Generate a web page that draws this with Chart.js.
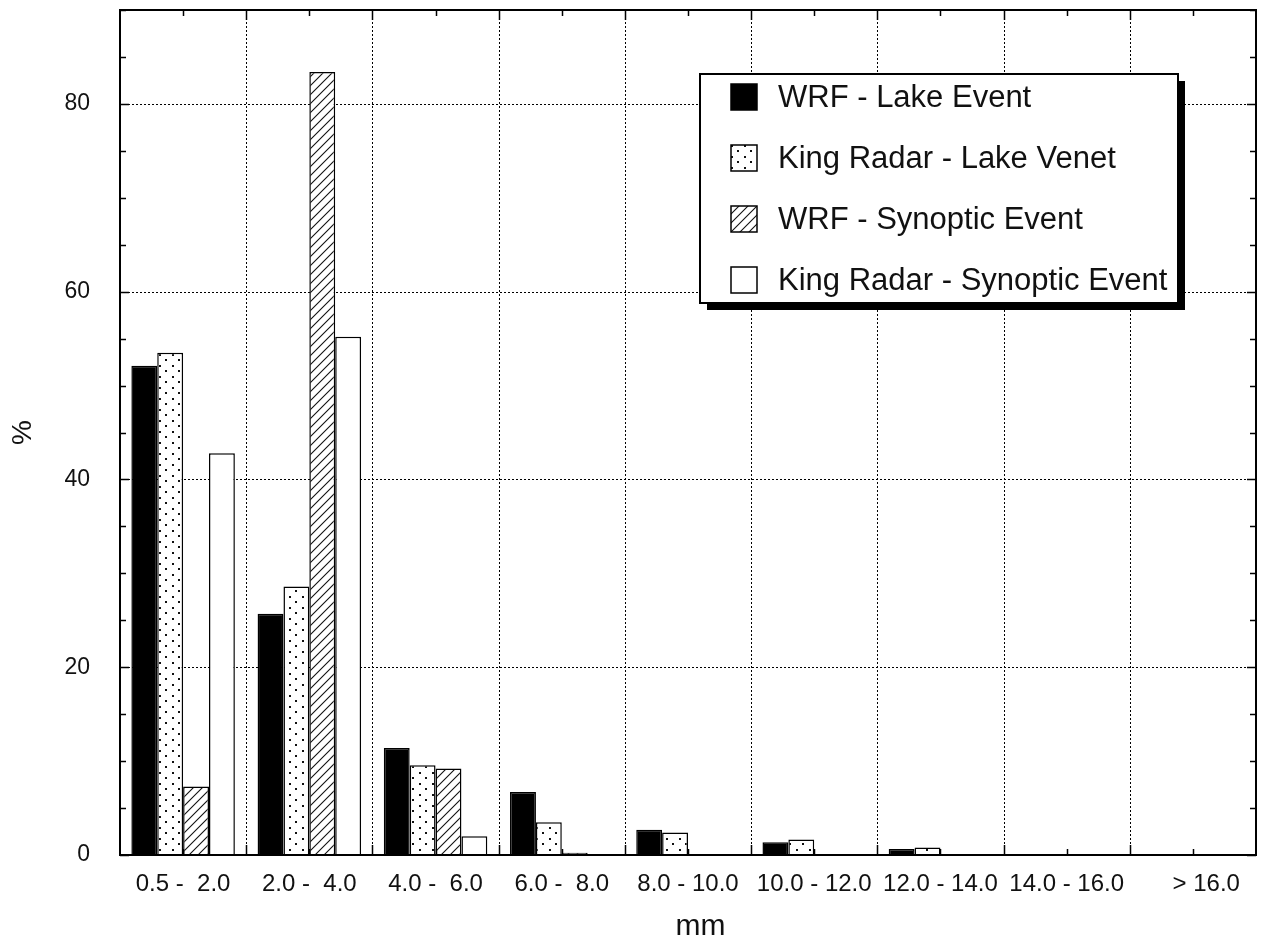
<!DOCTYPE html>
<html>
<head>
<meta charset="utf-8">
<script src="https://cdn.jsdelivr.net/npm/chart.js@4.4.1/dist/chart.umd.min.js"></script>
<style>
  html, body { margin: 0; padding: 0; background: #fff; }
  #wrap { width: 1264px; height: 943px; position: relative; }
</style>
</head>
<body>
<div id="wrap"><canvas id="dropChart"></canvas></div>
<script>
// drop size bins (x axis)
const categories = ['0.5 -  2.0', '2.0 -  4.0', '4.0 -  6.0', '6.0 -  8.0', '8.0 - 10.0',
    '10.0 - 12.0', '12.0 - 14.0', '14.0 - 16.0', '    > 16.0'];
const seriesNames = ['WRF - Lake Event', 'King Radar - Lake Venet', 'WRF - Synoptic Event', 'King Radar - Synoptic Event'];

// percent per bin
const wrfLake = [52.1, 25.7, 11.4, 6.7, 2.7, 1.35, 0.65, 0, 0];
const radarLake = [53.5, 28.6, 9.55, 3.5, 2.4, 1.65, 0.8, 0, 0];
const wrfSynoptic = [7.3, 83.4, 9.2, 0.25, 0, 0, 0, 0, 0];
const radarSynoptic = [42.8, 55.2, 2.0, 0, 0, 0, 0, 0, 0];

const yTicks = [0, 20, 40, 60, 80];
const yMinorStep = 5;
const yMax = 90;

const FONT = '"Liberation Sans", Arial, Helvetica, sans-serif';
Chart.defaults.font.family = FONT;
Chart.defaults.color = '#111';

function dotPattern() {
    const c = document.createElement('canvas');
    c.width = 13;
    c.height = 11;
    const g = c.getContext('2d');
    g.fillStyle = '#fff';
    g.fillRect(0, 0, 13, 11);
    g.fillStyle = '#111';
    g.fillRect(3, 2, 2, 2);
    g.fillRect(9, 7, 2, 2);
    return g.createPattern(c, 'repeat');
}

function hatchPattern() {
    const s = 9;
    const c = document.createElement('canvas');
    c.width = s;
    c.height = s;
    const g = c.getContext('2d');
    g.fillStyle = '#fff';
    g.fillRect(0, 0, s, s);
    g.strokeStyle = '#111';
    g.lineWidth = 1.1;
    g.beginPath();
    g.moveTo(-1, s + 1); g.lineTo(s + 1, -1);
    g.moveTo(-2, 2); g.lineTo(2, -2);
    g.moveTo(s - 2, s + 2); g.lineTo(s + 2, s - 2);
    g.stroke();
    return g.createPattern(c, 'repeat');
}

const fills = ['#000', dotPattern(), hatchPattern(), '#fff'];
const seriesData = [wrfLake, radarLake, wrfSynoptic, radarSynoptic];

// dotted grid behind bars, frame + inward ticks, boxed legend
const gridPlugin = {
    id: 'dottedGrid',
    beforeDatasetsDraw(chart) {
        const { ctx, chartArea: a, scales: { x, y } } = chart;
        ctx.save();
        ctx.strokeStyle = '#000';
        ctx.lineWidth = 1;
        ctx.setLineDash([2, 2]);
        ctx.beginPath();
        yTicks.forEach((v) => {
            if (v === 0) return;
            const py = Math.round(y.getPixelForValue(v)) + 0.5;
            ctx.moveTo(a.left, py);
            ctx.lineTo(a.right, py);
        });
        for (let i = 1; i < categories.length; i++) {
            const px = Math.round(x.getPixelForValue(i - 0.5)) + 0.5;
            ctx.moveTo(px, a.top);
            ctx.lineTo(px, a.bottom);
        }
        ctx.stroke();
        ctx.restore();
    },
    afterDatasetsDraw(chart) {
        const { ctx, chartArea: a, scales: { x, y } } = chart;
        ctx.save();
        ctx.strokeStyle = '#000';
        ctx.lineWidth = 1.5;
        ctx.beginPath();
        for (let v = 0; v <= yMax; v += yMinorStep) {
            const len = yTicks.includes(v) ? 9 : 6;
            const py = Math.round(y.getPixelForValue(v)) + 0.5;
            ctx.moveTo(a.left, py); ctx.lineTo(a.left + len, py);
            ctx.moveTo(a.right, py); ctx.lineTo(a.right - len, py);
        }
        for (let i = 0; i < categories.length; i++) {
            const pc = Math.round(x.getPixelForValue(i)) + 0.5;
            ctx.moveTo(pc, a.bottom); ctx.lineTo(pc, a.bottom - 6);
            ctx.moveTo(pc, a.top); ctx.lineTo(pc, a.top + 6);
            if (i > 0) {
                const pb = Math.round(x.getPixelForValue(i - 0.5)) + 0.5;
                ctx.moveTo(pb, a.bottom); ctx.lineTo(pb, a.bottom - 10);
                ctx.moveTo(pb, a.top); ctx.lineTo(pb, a.top + 10);
            }
        }
        ctx.stroke();
        ctx.lineWidth = 2;
        ctx.strokeRect(a.left, a.top, a.right - a.left, a.bottom - a.top);
        ctx.restore();
    },
    afterDraw(chart) {
        const { ctx } = chart;
        const bx = 700, by = 74, bw = 478, bh = 229;
        ctx.save();
        ctx.fillStyle = '#000';
        ctx.fillRect(bx + 7, by + 7, bw, bh);
        ctx.fillStyle = '#fff';
        ctx.fillRect(bx, by, bw, bh);
        ctx.strokeStyle = '#000';
        ctx.lineWidth = 2;
        ctx.strokeRect(bx, by, bw, bh);
        ctx.font = '31px ' + FONT;
        ctx.textBaseline = 'middle';
        ctx.textAlign = 'left';
        seriesNames.forEach((name, i) => {
            const cy = 97 + i * 61;
            ctx.fillStyle = fills[i];
            ctx.fillRect(731, cy - 13, 26, 26);
            ctx.lineWidth = 1.5;
            ctx.strokeRect(731, cy - 13, 26, 26);
            ctx.fillStyle = '#111';
            ctx.fillText(name, 778, cy + 1);
        });
        ctx.restore();
    },
};

new Chart(document.getElementById('dropChart'), {
    type: 'bar',
    data: {
        labels: categories,
        datasets: seriesNames.map((name, i) => ({
            label: name,
            data: seriesData[i],
            backgroundColor: fills[i],
            borderColor: '#000',
            borderWidth: 1.5,
            categoryPercentage: 0.82,
            barPercentage: 1,
        })),
    },
    options: {
        responsive: true,
        maintainAspectRatio: false,
        animation: false,
        devicePixelRatio: 1,
        layout: { padding: { top: 10, right: 8, left: 0, bottom: 0 } },
        plugins: {
            legend: { display: false },
            tooltip: { enabled: false },
        },
        scales: {
            x: {
                grid: { display: false, drawTicks: false },
                border: { display: false },
                ticks: { font: { size: 24 }, padding: 15, maxRotation: 0, autoSkip: false },
                title: {
                    display: true,
                    text: '   mm',
                    font: { size: 30, lineHeight: 1 },
                    padding: { top: 0, bottom: 1 },
                },
                afterFit(s) {
                    s.height = 88;
                    s.paddingLeft = 0;
                    s.paddingRight = 0;
                },
            },
            y: {
                min: 0,
                max: yMax,
                grid: { display: false, drawTicks: false },
                border: { display: false },
                ticks: { font: { size: 23 }, padding: 30 },
                afterBuildTicks(s) { s.ticks = yTicks.map((v) => ({ value: v })); },
                title: {
                    display: true,
                    text: '%',
                    font: { size: 28 },
                    padding: { top: 6, bottom: 0 },
                },
                afterFit(s) {
                    s.width = 120;
                    s.paddingTop = 0;
                    s.paddingBottom = 0;
                },
            },
        },
    },
    plugins: [gridPlugin],
});
</script>
</body>
</html>
